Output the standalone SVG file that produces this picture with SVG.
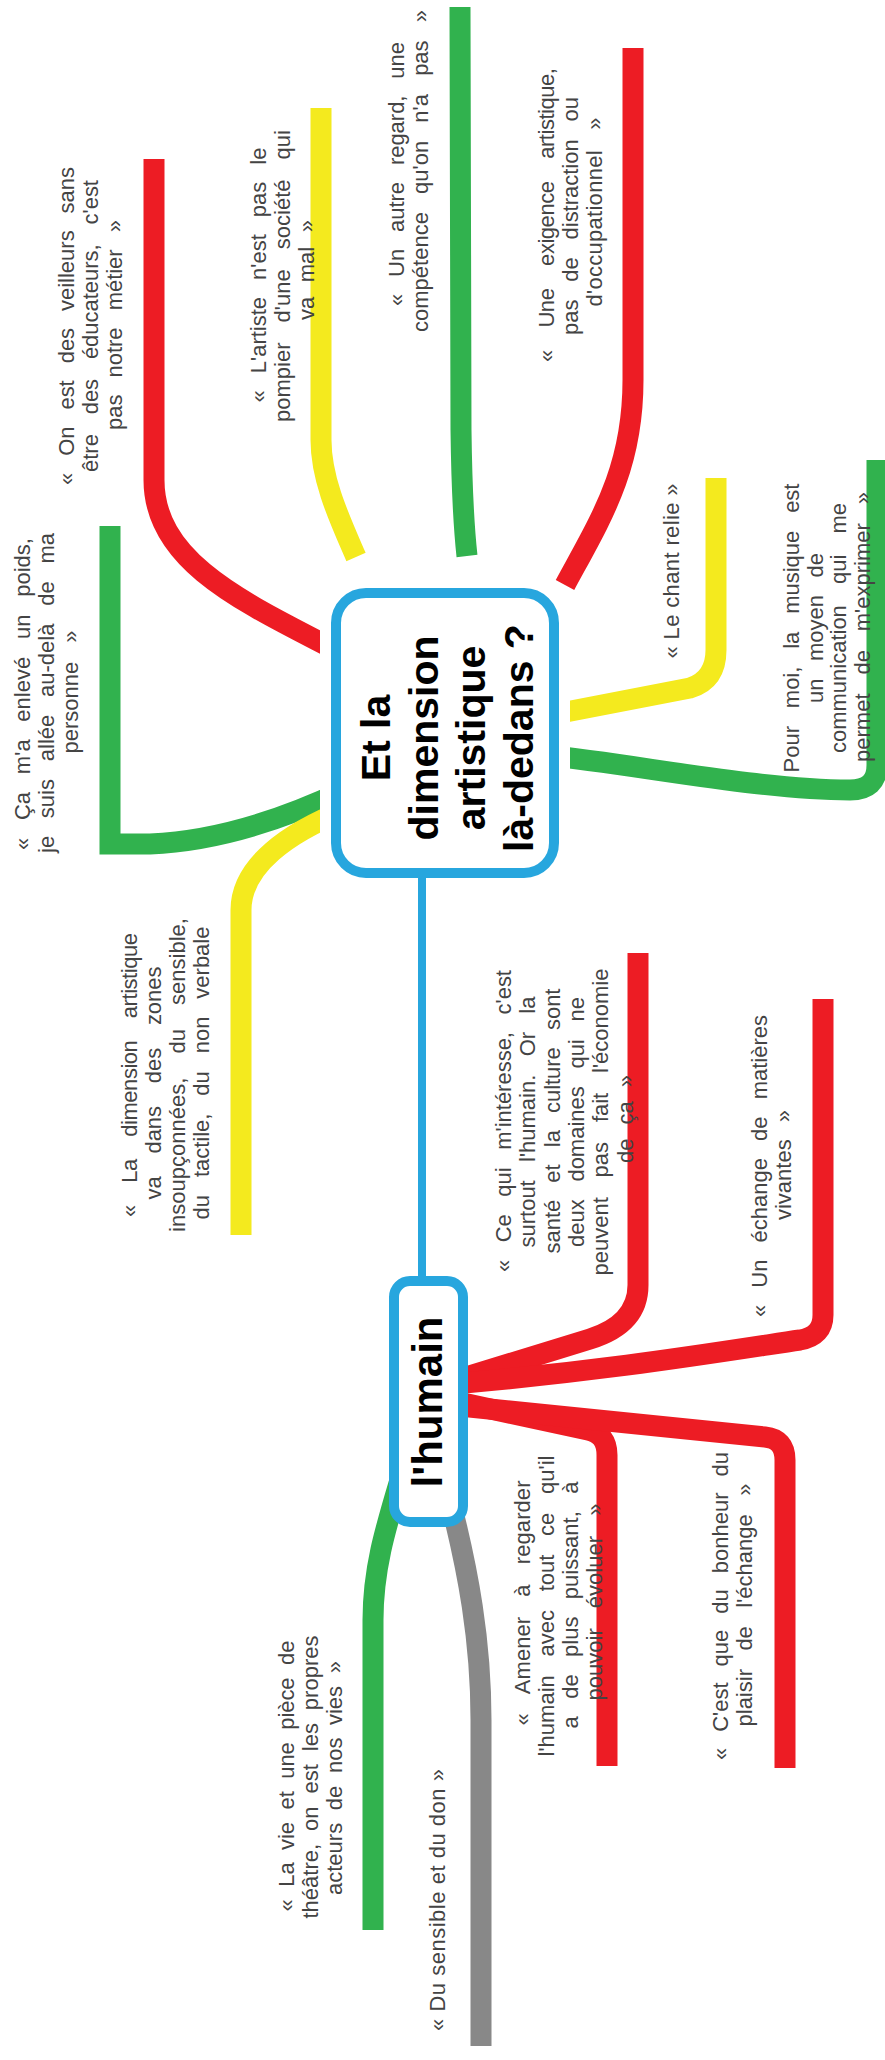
<svg xmlns="http://www.w3.org/2000/svg" width="885" height="2060" viewBox="0 0 885 2060">
<defs>
<style>
.br{fill:none;stroke-width:21;stroke-linecap:butt;stroke-linejoin:round}
.r{stroke:#ED1C24}.y{stroke:#F4EA1E}.g{stroke:#31B24E}.k{stroke:#888888}
.lbl{font-family:"Liberation Sans",Arial,sans-serif;font-size:22px;fill:#444;text-anchor:middle}
.ttl{font-family:"Liberation Sans",Arial,sans-serif;font-weight:bold;font-size:41px;fill:#000;text-anchor:middle}
.box{fill:#fff;stroke:#27A6DE;stroke-width:10}
</style>
<clipPath id="c1"><path clip-rule="evenodd" d="M0,0H885V2060H0Z M366,577H524A46,46 0 0 1 570,623V843A46,46 0 0 1 524,889H366A46,46 0 0 1 320,843V623A46,46 0 0 1 366,577Z"/></clipPath>
</defs>
<rect width="885" height="2060" fill="#fff"/>
<g id="connectors">
<g clip-path="url(#c1)">
<path class="br r" d="M154,159 L154,480 C154,565 250,605 345,655"/>
<path class="br y" d="M321,108 L321,440 C321,480 340,520 356,557"/>
<path class="br g" d="M460,7 L461,430 Q462,510 467,556"/>
<path class="br r" d="M633,48 L633,380 C633,470 600,520 565,585"/>
<path class="br y" d="M716,478 L716,650 Q716,680 690,688 L545,716"/>
<path class="br g" d="M545,755 C640,765 760,790 850,790 Q877,790 877,765 L877,460"/>
<path class="br g" style="stroke-linejoin:miter" d="M110,526 L110,844 L150,844 Q240,840 345,790"/>
<path class="br y" d="M345,810 C290,832 241,865 241,910 L241,1235"/>
</g>
<path class="br r" d="M440,1385 L590,1339 Q638,1324 638,1285 L638,953"/>
<path class="br r" d="M440,1385 C600,1372 720,1352 800,1340 Q823,1336 823,1315 L823,999"/>
<path class="br r" d="M440,1398 L588,1430 Q607,1434 607,1455 L607,1766"/>
<path class="br r" d="M440,1404 L765,1437 Q785,1439 785,1460 L785,1768"/>
<path class="br g" d="M400,1480 C385,1530 373,1570 373,1620 L373,1930"/>
<path class="br k" d="M450,1500 C468,1570 481,1640 481,1720 L481,2046"/>
<path fill="none" stroke="#27A6DE" stroke-width="8" d="M422,873 L422,1281"/>
</g>
<g id="node-center">
<rect class="box" x="336" y="593" width="218" height="280" rx="30"/>
<text class="ttl" transform="translate(390,738) rotate(-90)">Et la</text>
<text class="ttl" transform="translate(437.7,738) rotate(-90)">dimension</text>
<text class="ttl" transform="translate(485.4,738) rotate(-90)">artistique</text>
<text class="ttl" transform="translate(533,738) rotate(-90)">là-dedans ?</text>
</g>
<g id="node-humain">
<rect class="box" x="394" y="1281" width="69" height="241" rx="16"/>
<text class="ttl" style="font-size:42px" transform="translate(442,1402) rotate(-90)">l'humain</text>
</g>
<g id="n-veilleurs">
<text class="lbl" transform="translate(74,326) rotate(-90)" textLength="318" lengthAdjust="spacing" word-spacing="10.8">« On est des veilleurs sans</text>
<text class="lbl" transform="translate(98,326) rotate(-90)" textLength="292" lengthAdjust="spacing" word-spacing="13.7">être des éducateurs, c'est</text>
<text class="lbl" transform="translate(122,325) rotate(-90)" textLength="210" lengthAdjust="spacing" word-spacing="11">pas notre métier »</text>
</g>
<g id="n-pompier">
<text class="lbl" transform="translate(266,275) rotate(-90)" textLength="255" lengthAdjust="spacing" word-spacing="11">« L'artiste n'est pas le</text>
<text class="lbl" transform="translate(290,276) rotate(-90)" textLength="292" lengthAdjust="spacing" word-spacing="14">pompier d'une société qui</text>
<text class="lbl" transform="translate(314,270) rotate(-90)" textLength="100" lengthAdjust="spacing" word-spacing="8.5">va mal »</text>
</g>
<g id="n-regard">
<text class="lbl" transform="translate(404,174) rotate(-90)" textLength="264" lengthAdjust="spacing" word-spacing="10.75">« Un autre regard, une</text>
<text class="lbl" transform="translate(428,171) rotate(-90)" textLength="322" lengthAdjust="spacing" word-spacing="12">compétence qu'on n'a pas »</text>
</g>
<g id="n-exigence">
<text class="lbl" transform="translate(554,215) rotate(-90)" textLength="294" lengthAdjust="spacing" word-spacing="17">« Une exigence artistique,</text>
<text class="lbl" transform="translate(578,216) rotate(-90)" textLength="238" lengthAdjust="spacing" word-spacing="11.7">pas de distraction ou</text>
<text class="lbl" transform="translate(602,212) rotate(-90)" textLength="189" lengthAdjust="spacing" word-spacing="14">d'occupationnel »</text>
</g>
<g id="n-chant">
<text class="lbl" transform="translate(679,571) rotate(-90)" textLength="175" lengthAdjust="spacing">« Le chant relie »</text>
</g>
<g id="n-musique">
<text class="lbl" transform="translate(799,628) rotate(-90)" textLength="289" lengthAdjust="spacing" word-spacing="11.75">Pour moi, la musique est</text>
<text class="lbl" transform="translate(823,628) rotate(-90)" textLength="150" lengthAdjust="spacing" word-spacing="11.5">un moyen de</text>
<text class="lbl" transform="translate(846,628) rotate(-90)" textLength="250" lengthAdjust="spacing" word-spacing="15">communication qui me</text>
<text class="lbl" transform="translate(870,627) rotate(-90)" textLength="270" lengthAdjust="spacing" word-spacing="12.7">permet de m'exprimer »</text>
</g>
<g id="n-poids">
<text class="lbl" transform="translate(30,694) rotate(-90)" textLength="312" lengthAdjust="spacing" word-spacing="11.6">« Ça m'a enlevé un poids,</text>
<text class="lbl" transform="translate(54,693) rotate(-90)" textLength="320" lengthAdjust="spacing" word-spacing="11.6">je suis allée au-delà de ma</text>
<text class="lbl" transform="translate(78,692) rotate(-90)" textLength="123" lengthAdjust="spacing" word-spacing="13">personne »</text>
</g>
<g id="n-sensible">
<text class="lbl" transform="translate(137,1075) rotate(-90)" textLength="284" lengthAdjust="spacing" word-spacing="16.8">« La dimension artistique</text>
<text class="lbl" transform="translate(161,1083) rotate(-90)" textLength="233" lengthAdjust="spacing" word-spacing="16.7">va dans des zones</text>
<text class="lbl" transform="translate(185,1075) rotate(-90)" textLength="314" lengthAdjust="spacing" word-spacing="18">insoupçonnées, du sensible,</text>
<text class="lbl" transform="translate(209,1073) rotate(-90)" textLength="293" lengthAdjust="spacing" word-spacing="11.8">du tactile, du non verbale</text>
</g>
<g id="n-interesse">
<text class="lbl" transform="translate(511,1121) rotate(-90)" textLength="302" lengthAdjust="spacing" word-spacing="11.4">« Ce qui m'intéresse, c'est</text>
<text class="lbl" transform="translate(535,1122) rotate(-90)" textLength="251" lengthAdjust="spacing" word-spacing="12.2">surtout l'humain. Or la</text>
<text class="lbl" transform="translate(560,1121) rotate(-90)" textLength="265" lengthAdjust="spacing" word-spacing="11">santé et la culture sont</text>
<text class="lbl" transform="translate(584,1122) rotate(-90)" textLength="250" lengthAdjust="spacing" word-spacing="11.7">deux domaines qui ne</text>
<text class="lbl" transform="translate(608,1122) rotate(-90)" textLength="307" lengthAdjust="spacing" word-spacing="13.7">peuvent pas fait l'économie</text>
<text class="lbl" transform="translate(633,1119) rotate(-90)" textLength="88" lengthAdjust="spacing" word-spacing="8">de ça »</text>
</g>
<g id="n-echange">
<text class="lbl" transform="translate(767,1166) rotate(-90)" textLength="302" lengthAdjust="spacing" word-spacing="11">« Un échange de matières</text>
<text class="lbl" transform="translate(791,1165) rotate(-90)" textLength="110" lengthAdjust="spacing" word-spacing="11">vivantes »</text>
</g>
<g id="n-amener">
<text class="lbl" transform="translate(530,1603) rotate(-90)" textLength="245" lengthAdjust="spacing" word-spacing="14">« Amener à regarder</text>
<text class="lbl" transform="translate(554,1606) rotate(-90)" textLength="301" lengthAdjust="spacing" word-spacing="12.6">l'humain avec tout ce qu'il</text>
<text class="lbl" transform="translate(578,1605) rotate(-90)" textLength="247" lengthAdjust="spacing" word-spacing="11.3">a de plus puissant, à</text>
<text class="lbl" transform="translate(602,1602) rotate(-90)" textLength="197" lengthAdjust="spacing" word-spacing="14">pouvoir évoluer »</text>
</g>
<g id="n-bonheur">
<text class="lbl" transform="translate(728,1606) rotate(-90)" textLength="308" lengthAdjust="spacing" word-spacing="9.9">« C'est que du bonheur du</text>
<text class="lbl" transform="translate(752,1605) rotate(-90)" textLength="243" lengthAdjust="spacing" word-spacing="12.3">plaisir de l'échange »</text>
</g>
<g id="n-theatre">
<text class="lbl" transform="translate(294,1776) rotate(-90)" textLength="271" lengthAdjust="spacing" word-spacing="6.5">« La vie et une pièce de</text>
<text class="lbl" transform="translate(318,1777) rotate(-90)" textLength="283" lengthAdjust="spacing" word-spacing="6.8">théâtre, on est les propres</text>
<text class="lbl" transform="translate(342,1778) rotate(-90)" textLength="234" lengthAdjust="spacing" word-spacing="6.5">acteurs de nos vies »</text>
</g>
<g id="n-don">
<text class="lbl" transform="translate(445,1900) rotate(-90)" textLength="262" lengthAdjust="spacing">« Du sensible et du don »</text>
</g>
</svg>
